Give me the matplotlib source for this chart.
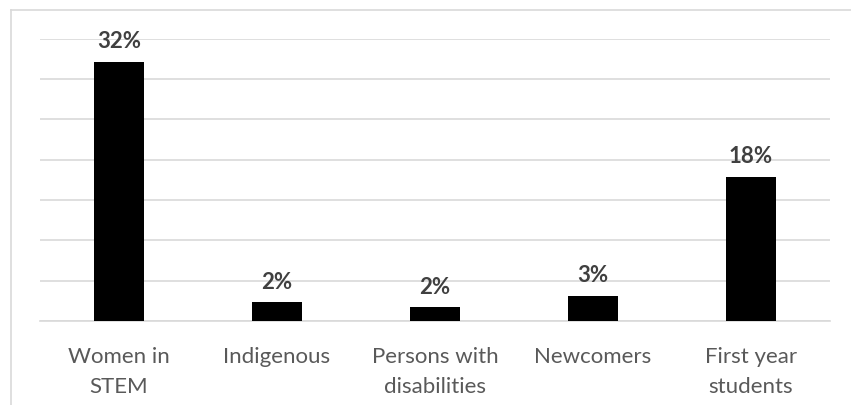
import matplotlib
matplotlib.use("Agg")
import matplotlib.pyplot as plt
from matplotlib.lines import Line2D

categories = ["Women in\nSTEM", "Indigenous", "Persons with\ndisabilities", "Newcomers", "First year\nstudents"]
shares = [32.1, 2.3, 1.7, 3.1, 17.9]

plt.rcParams["font.family"] = ["Lato", "DejaVu Sans"]

fig = plt.figure(figsize=(8.51, 4.06), dpi=100)
ax = fig.add_axes([40 / 851, 84 / 406, 790 / 851, 282.5 / 406])

x = list(range(len(categories)))
ax.bar(x, shares, width=0.32, color="black", zorder=3)

for xi, v in zip(x, shares):
    ax.annotate(f"{v:.0f}%", (xi, v), xytext=(0, 10.5), textcoords="offset points",
                ha="center", va="baseline", fontsize=16, fontweight="bold", color="#404040")

ax.set_xlim(-0.5, len(categories) - 0.5)
ax.set_ylim(0, 35)
ax.set_yticks(range(0, 36, 5))
ax.yaxis.grid(True, color="#d9d9d9", linewidth=1.2, zorder=0)
ax.tick_params(axis="y", left=False, labelleft=False)
ax.set_xticks(x)
ax.set_xticklabels(categories, fontsize=16, color="#595959", linespacing=1.62)
ax.tick_params(axis="x", length=0, pad=18)
for side in ["top", "right", "left"]:
    ax.spines[side].set_visible(False)
ax.spines["bottom"].set_color("#d9d9d9")
ax.spines["bottom"].set_linewidth(1.2)

# outer chart frame (only top and left edges fall inside the canvas)
fig.add_artist(Line2D([10.5 / 851, 10.5 / 851], [0, 1 - 10.5 / 406], transform=fig.transFigure,
                      color="#d9d9d9", linewidth=1.2))
fig.add_artist(Line2D([10.5 / 851, 1], [1 - 10.5 / 406, 1 - 10.5 / 406], transform=fig.transFigure,
                      color="#d9d9d9", linewidth=1.2))

fig.savefig("out.png", dpi=100)
